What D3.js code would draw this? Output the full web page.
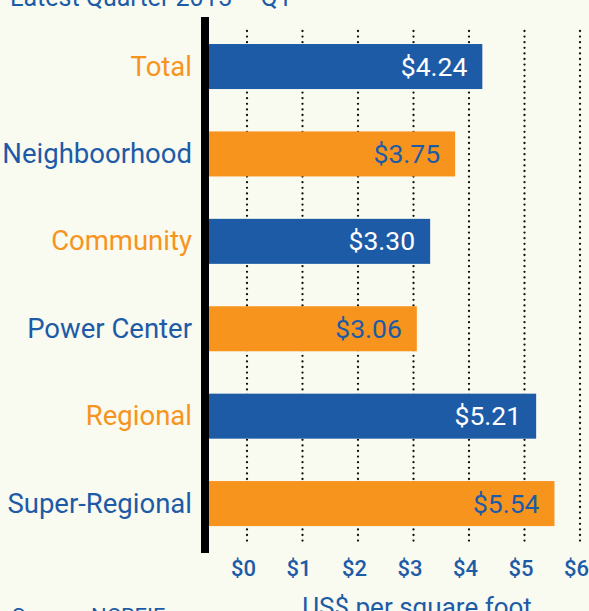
<!DOCTYPE html>
<html>
<head>
<meta charset="utf-8">
<script src="https://cdn.jsdelivr.net/npm/d3@7"></script>
<style>
  body { margin: 0; background: #f9faf0; overflow: hidden; }
  svg { display: block; }
  text { font-family: Roboto, "Open Sans", sans-serif; }
</style>
</head>
<body>
<script>
// categories and values
const categories = ["Total", "Neighboorhood", "Community", "Power Center", "Regional", "Super-Regional"];
const rents = [4.24, 3.75, 3.30, 3.06, 5.21, 5.54];
const tickValues = [0, 1, 2, 3, 4, 5, 6];
const tickLabels = ["$0", "$1", "$2", "$3", "$4", "$5", "$6"];

const width = 589, height = 611;
const blue = "#1d5ba7", orange = "#f7941e";
const axisLeft = 209;   // right edge of the thick black axis

var svg = d3.select("body")
            .append("svg")
            .attr("width", width)
            .attr("height", height);

var x = d3.scaleLinear()
          .domain([0, 6])
          .range([247, 580]);

var y = d3.scaleBand()
          .domain(categories)
          .range([17.8, 552.3])
          .paddingInner(0.485)
          .paddingOuter(0.3);

// dotted gridlines
svg.append("g")
   .selectAll("line")
   .data(tickValues)
   .enter()
   .append("line")
   .attr("x1", d => x(d))
   .attr("x2", d => x(d))
   .attr("y1", 31)
   .attr("y2", 543)
   .attr("stroke", "#111")
   .attr("stroke-width", 2.3)
   .attr("stroke-linecap", "round")
   .attr("stroke-dasharray", "0,5.6");

// bars
svg.append("g")
   .selectAll("rect")
   .data(rents)
   .enter()
   .append("rect")
   .attr("x", axisLeft)
   .attr("y", (d, i) => y(categories[i]))
   .attr("width", d => x(d) - axisLeft)
   .attr("height", y.bandwidth())
   .attr("fill", (d, i) => i % 2 == 0 ? blue : orange);

// value labels inside the bars
svg.append("g")
   .selectAll("text")
   .data(rents)
   .enter()
   .append("text")
   .attr("x", d => x(d) - 15)
   .attr("y", (d, i) => y(categories[i]) + y.bandwidth() / 2 + 9)
   .attr("text-anchor", "end")
   .attr("font-size", 26.5)
   .attr("fill", (d, i) => i % 2 == 0 ? "#fff" : blue)
   .text(d => "$" + d.toFixed(2));

// category labels
svg.append("g")
   .selectAll("text")
   .data(categories)
   .enter()
   .append("text")
   .attr("x", 192)
   .attr("y", d => y(d) + y.bandwidth() / 2 + 9)
   .attr("text-anchor", "end")
   .attr("font-size", 27.5)
   .attr("fill", (d, i) => i % 2 == 0 ? orange : blue)
   .text(d => d);

// thick black axis line
svg.append("rect")
   .attr("x", 201)
   .attr("y", 17)
   .attr("width", axisLeft - 201)
   .attr("height", 536)
   .attr("fill", "#000");

// tick labels
var xAxis = d3.axisBottom(x)
              .tickValues(tickValues)
              .tickFormat((d, i) => tickLabels[i])
              .tickSize(0)
              .tickPadding(0);

var axisG = svg.append("g")
               .attr("transform", "translate(-4, 560)")
               .call(xAxis);
axisG.select(".domain").remove();
axisG.selectAll("text")
     .attr("font-size", 22)
     .attr("font-weight", 500)
     .attr("fill", blue)
     .attr("font-family", "Roboto, \"Open Sans\", sans-serif");

// title (cut off at the top in the original)
svg.append("text")
   .attr("x", 10)
   .attr("y", 6)
   .attr("font-size", 25)
   .attr("fill", blue)
   .text("Latest Quarter 2015 \u2013 Q1");

// axis title and source (cut off at the bottom)
svg.append("text")
   .attr("x", 417)
   .attr("y", 616)
   .attr("text-anchor", "middle")
   .attr("font-size", 26)
   .attr("fill", blue)
   .text("US$ per square foot");

svg.append("text")
   .attr("x", 12)
   .attr("y", 624)
   .attr("font-size", 22)
   .attr("fill", blue)
   .text("Source: NCREIF");
</script>
</body>
</html>
